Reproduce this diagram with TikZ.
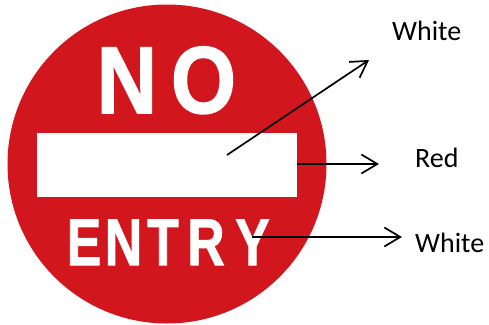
\documentclass[tikz,border=0pt]{standalone}
\usepackage{fontspec}
\setmainfont{Carlito}
\newfontfamily\signfont[FakeBold=1.6]{Liberation Sans Bold}
\usetikzlibrary{arrows.meta}
\definecolor{signred}{RGB}{210,22,30}
\tikzset{
  bigletter/.style={anchor=base, inner sep=0pt, text=white, font=\signfont\bfseries\fontsize{95}{95}\selectfont, xscale=0.88},
  smallletter/.style={anchor=base, inner sep=0pt, text=white, font=\signfont\bfseries\fontsize{66}{66}\selectfont, xscale=0.78},
  lbl/.style={anchor=base west, inner sep=0pt, font=\fontsize{28}{28}\selectfont},
  pointer/.style={draw=black, line width=1.7pt, -{Straight Barb[length=16pt,width=19pt,line width=1.7pt]}}
}
\begin{document}
\begin{tikzpicture}[x=1pt,y=-1pt]
\useasboundingbox (0,0) rectangle (489,324);
\fill[signred] (167,164) circle (159.5);
\fill[white] (37,133) rectangle (297,197);
\node[bigletter] (n1) at (127,113) {N};
\node[bigletter] (o1) at (203.5,113) {O};
\node[smallletter] (e2) at (84,265) {E};
\node[smallletter] (n2) at (123.5,265) {N};
\node[smallletter] (t2) at (163,265) {T};
\node[smallletter] (r2) at (206,265) {R};
\node[smallletter] (y2) at (252.5,265) {Y};
\node[lbl] (w1) at (392,40) {White};
\node[lbl] (red) at (415,167) {Red};
\node[lbl] (w2) at (415,252) {White};
\coordinate (a1s) at (227,155);
\coordinate (a1e) at (369,60);
\coordinate (a2s) at (297,164);
\coordinate (a2e) at (379,164);
\coordinate (a3s) at (252,237);
\coordinate (a3e) at (402,237);
\draw[pointer] (a1s) -- (a1e);
\draw[pointer] (a2s) -- (a2e);
\draw[pointer] (a3s) -- (a3e);
\end{tikzpicture}
\end{document}
